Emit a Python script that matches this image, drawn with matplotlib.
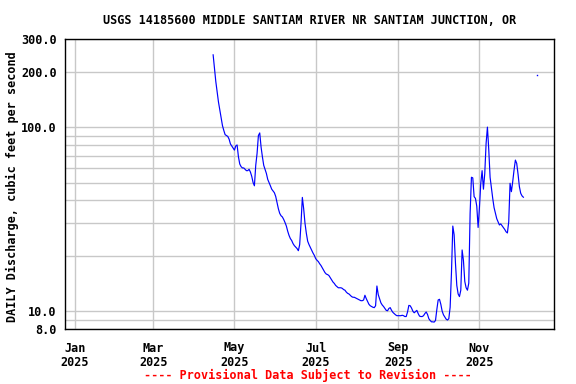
"""USGS 14185600 일유량 그래프 재현 (2025, 잠정 자료)."""
import pandas as pd
import matplotlib
matplotlib.use("Agg")
import matplotlib.pyplot as plt
import matplotlib.dates as mdates
from matplotlib.ticker import FixedLocator, FixedFormatter, NullFormatter

matplotlib.rcParams["font.family"] = "DejaVu Sans Mono"
matplotlib.rcParams["font.weight"] = "bold"
matplotlib.rcParams["font.size"] = 8.45

# 일유량 (cfs), 월별로 나눔 — 2025-04-15 부터
apr = [247, 210, 177, 156, 137, 124, 112, 102, 96, 91, 90, 89, 86, 81, 79, 77]
may = [75, 79, 80, 69, 63, 61, 60, 60, 59, 58, 58, 59, 57, 54, 50, 48,
       62, 72, 90, 93, 78, 69, 62, 59, 56, 52, 50, 48, 46, 45, 44]
jun = [42, 39, 36, 34, 33, 32.5, 31.5, 30.3, 29, 27.2, 25.8, 24.8, 24.2, 23.3, 22.7,
       22.3, 21.9, 21.3, 23, 30, 41.5, 36, 30, 26.5, 24, 23, 22.2, 21.4, 20.7, 20.1]
jul = [19.3, 18.9, 18.6, 18.1, 17.7, 17.2, 16.7, 16.2, 15.9, 15.8, 15.6, 15.2, 14.8,
       14.4, 14.15, 13.8, 13.6, 13.4, 13.4, 13.4, 13.3, 13.1, 13.0, 12.7, 12.5, 12.4,
       12.2, 12.0, 11.9, 11.9, 11.8]
aug = [11.7, 11.6, 11.5, 11.4, 11.4, 11.5, 12.2, 11.7, 11.3, 10.9, 10.7, 10.6, 10.5,
       10.45, 10.7, 13.7, 12.3, 11.7, 11.1, 10.8, 10.6, 10.35, 10.1, 10.05, 10.35,
       10.45, 10.1, 9.85, 9.7, 9.55, 9.45]
sep = [9.45, 9.45, 9.45, 9.5, 9.45, 9.35, 9.35, 9.9, 10.75, 10.7, 10.4, 10.0, 9.8,
       9.95, 10.1, 9.7, 9.4, 9.35, 9.35, 9.45, 9.7, 9.9, 9.6, 9.1, 8.9, 8.75, 8.75,
       8.72, 8.9, 10.2]
oct_ = [11.5, 11.6, 10.9, 10.0, 9.55, 9.3, 9.05, 8.95, 9.1, 10.5, 16.2, 29, 26, 18.2,
        13.8, 12.4, 12.0, 13.0, 21.5, 18.8, 14.5, 13.4, 13.0, 14.2, 34, 53.4, 53, 41.9,
        41, 37.2, 28.5]
nov = [36.5, 49.5, 58, 46, 56, 81.5, 100, 75.5, 53.4, 46.5, 40.9, 36.5, 34, 31.8, 30.6,
       29.4, 29.8, 29.1, 28.4, 27.8, 27, 26.6, 30.6, 49.5, 44.6, 50.6, 58.5, 66.2, 63.5, 55.5]
dec = [47.5, 43.7, 42.3, 41.6]

# 떨어져 있는 단일 관측값
lone_date = "2025-12-14"
lone_flow = 192

y_labels = [8, 10, 100, 200, 300]
y_grid = [9, 10, 20, 30, 40, 50, 60, 70, 80, 90, 100, 200]

TITLE = "USGS 14185600 MIDDLE SANTIAM RIVER NR SANTIAM JUNCTION, OR"
YLABEL = "DAILY Discharge, cubic feet per second"
NOTE = "---- Provisional Data Subject to Revision ----"


def main():
    flow = apr + may + jun + jul + aug + sep + oct_ + nov + dec
    dates = pd.date_range("2025-04-15", periods=len(flow), freq="D")

    fig = plt.figure(figsize=(5.76, 3.84), dpi=100)
    ax = fig.add_axes([65 / 576, 1 - 329 / 384, 489 / 576, 289.7 / 384])

    ax.plot(dates, flow, color="blue", lw=0.85)
    ax.plot(pd.to_datetime([lone_date]), [lone_flow], ls="none", marker="s",
            ms=1.0, color="blue", mec="none")

    ax.set_yscale("log")
    ax.set_ylim(8, 300)
    ax.yaxis.set_major_locator(FixedLocator(y_labels))
    ax.yaxis.set_major_formatter(FixedFormatter([f"{v:.1f}" for v in y_labels]))
    ax.yaxis.set_minor_locator(FixedLocator(y_grid))
    ax.yaxis.set_minor_formatter(NullFormatter())

    ax.set_xlim(pd.Timestamp("2024-12-24 18:00"), pd.Timestamp("2025-12-27"))
    ax.xaxis.set_major_locator(mdates.MonthLocator(bymonth=[1, 3, 5, 7, 9, 11]))
    ax.xaxis.set_major_formatter(mdates.DateFormatter("%b\n%Y"))

    ax.grid(which="both", color="#c8c8c8", lw=1.0)
    ax.set_axisbelow(True)
    ax.tick_params(which="both", length=0)
    ax.tick_params(axis="x", pad=9)
    ax.tick_params(axis="y", pad=6)
    for s in ax.spines.values():
        s.set_linewidth(1.0)

    fig.text(309.5 / 576, 1 - 20 / 384, TITLE, ha="center", va="center")
    fig.text(12 / 576, 1 - 187 / 384, YLABEL, rotation=90, ha="center", va="center")
    fig.text(308 / 576, 1 - 375 / 384, NOTE, ha="center", va="center", color="red")

    fig.savefig("out.png", dpi=100)
    plt.close(fig)


if __name__ == "__main__":
    main()
